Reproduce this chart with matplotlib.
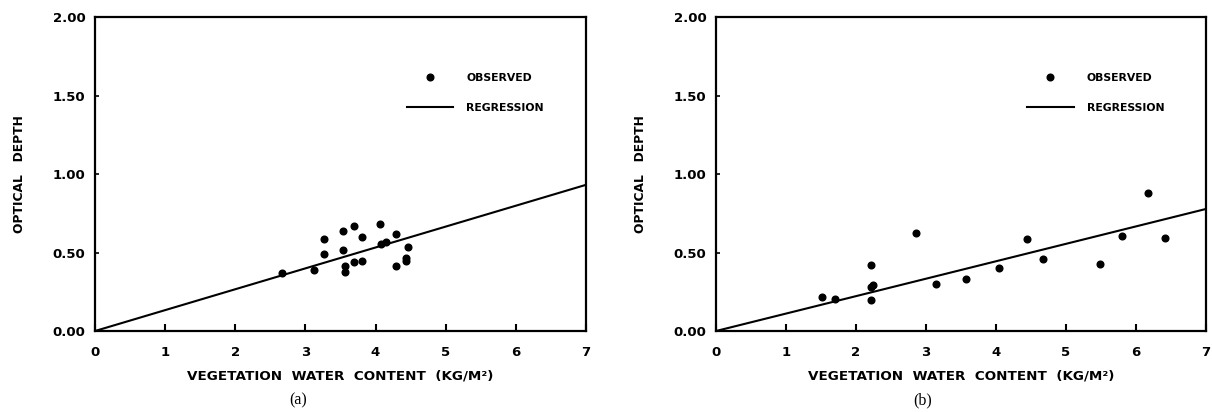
import matplotlib
matplotlib.use('Agg')
import matplotlib.pyplot as plt
from matplotlib.lines import Line2D

# panel (a)
vwc_a = [2.67, 3.12, 3.27, 3.27, 3.54, 3.54, 3.57, 3.57, 3.70, 3.70,
         3.81, 3.81, 4.07, 4.08, 4.15, 4.29, 4.29, 4.47, 4.44, 4.44]
tau_a = [0.371, 0.386, 0.583, 0.489, 0.636, 0.517, 0.413, 0.375, 0.667, 0.441,
         0.600, 0.449, 0.680, 0.557, 0.568, 0.619, 0.413, 0.534, 0.468, 0.447]
reg_x_a = [0.0, 7.0]
reg_y_a = [0.0, 0.931]

# panel (b)
vwc_b = [1.52, 1.70, 2.21, 2.21, 2.24, 2.21, 2.86, 3.15,
         3.57, 4.05, 4.45, 4.67, 5.49, 5.80, 6.17, 6.42]
tau_b = [0.215, 0.205, 0.422, 0.281, 0.293, 0.198, 0.627, 0.302,
         0.331, 0.401, 0.584, 0.460, 0.428, 0.608, 0.876, 0.591]
reg_x_b = [0.0, 7.0]
reg_y_b = [0.0, 0.777]

x_ticks = [0, 1, 2, 3, 4, 5, 6, 7]
y_ticks = [0.0, 0.5, 1.0, 1.5, 2.0]
y_tick_labels = ['0.00', '0.50', '1.00', '1.50', '2.00']

fig = plt.figure(figsize=(12.12, 4.12), dpi=100)
fig.patch.set_facecolor('white')

ax_a = fig.add_axes([0.0784, 0.1966, 0.405, 0.762])
ax_b = fig.add_axes([0.5908, 0.1966, 0.404, 0.762])


def style_panel(ax, vwc, tau, reg_x, reg_y):
    ax.plot(vwc, tau, 'o', color='black', markersize=4.8, zorder=3)
    ax.plot(reg_x, reg_y, '-', color='black', linewidth=1.5, zorder=2)

    ax.set_xlim(0, 7)
    ax.set_ylim(0, 2)
    ax.set_xticks(x_ticks)
    ax.set_yticks(y_ticks)
    ax.set_yticklabels(y_tick_labels)

    for spine in ax.spines.values():
        spine.set_linewidth(1.6)
        spine.set_color('black')

    ax.tick_params(axis='x', direction='in', length=5, width=1.5, pad=11,
                   labelsize=9.5)
    ax.tick_params(axis='y', direction='in', length=3, width=1.2, pad=7,
                   labelsize=9.5)
    for lbl in ax.get_xticklabels() + ax.get_yticklabels():
        lbl.set_fontweight('bold')

    ax.set_xlabel('VEGETATION  WATER  CONTENT  (KG/M\u00b2)',
                  fontsize=9.7, fontweight='bold')
    ax.xaxis.set_label_coords(0.5, -0.122)
    ax.set_ylabel('OPTICAL   DEPTH', fontsize=8.8, fontweight='bold')
    ax.yaxis.set_label_coords(-0.140, 0.5)

    handles = [
        Line2D([], [], marker='o', linestyle='none', color='black',
               markersize=4.8),
        Line2D([], [], linestyle='-', color='black', linewidth=1.5),
    ]
    leg = ax.legend(handles, ['OBSERVED', 'REGRESSION'],
                    loc='upper left', bbox_to_anchor=(0.635, 0.822),
                    frameon=False, borderpad=0, borderaxespad=0,
                    handlelength=4.3, handletextpad=1.2, labelspacing=1.85,
                    prop={'size': 7.8, 'weight': 'bold'})
    return leg


style_panel(ax_a, vwc_a, tau_a, reg_x_a, reg_y_a)
style_panel(ax_b, vwc_b, tau_b, reg_x_b, reg_y_b)

fig.text(0.246, 0.028, '(a)', fontsize=11.5, family='Liberation Serif',
         ha='center', va='center')
fig.text(0.761, 0.028, '(b)', fontsize=11.5, family='Liberation Serif',
         ha='center', va='center')

fig.savefig('out.png', dpi=100, facecolor='white')
